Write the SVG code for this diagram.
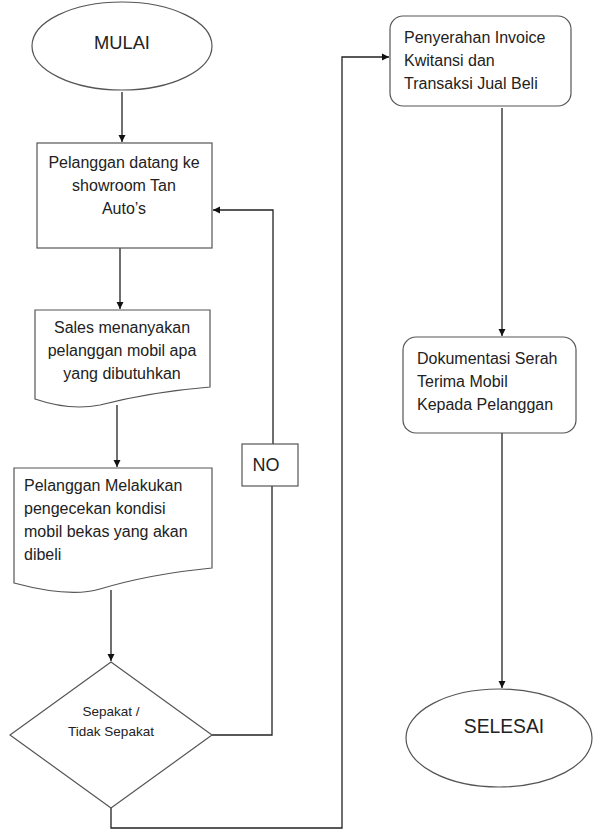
<svg xmlns="http://www.w3.org/2000/svg" width="593" height="829" viewBox="0 0 593 829">
<style>
.shape{fill:#fff;stroke:#555;stroke-width:1.2}
.t{font-family:"Liberation Sans",Arial,sans-serif;font-size:16px;fill:#222}
.c{text-anchor:middle}
.con{fill:none;stroke:#222;stroke-width:1.3}
</style>
<defs>
<marker id="ah" markerWidth="8" markerHeight="8" refX="7" refY="4" orient="auto" markerUnits="userSpaceOnUse">
<path d="M0,0.5 L7,4 L0,7.5 Z" fill="#111"/>
</marker>
</defs>
<rect width="593" height="829" fill="#fff"/>
<g id="connectors">
<path class="con" d="M122,92 V142" marker-end="url(#ah)"/>
<path class="con" d="M120,248 V309" marker-end="url(#ah)"/>
<path class="con" d="M117,405 V467" marker-end="url(#ah)"/>
<path class="con" d="M111,590 V661" marker-end="url(#ah)"/>
<path class="con" d="M212,735 H272 V486"/>
<path class="con" d="M273,444 V210 H213" marker-end="url(#ah)"/>
<path class="con" d="M111,808 V828 H342 V57 H389" marker-end="url(#ah)"/>
<path class="con" d="M502,108 V336" marker-end="url(#ah)"/>
<path class="con" d="M502,433 V688" marker-end="url(#ah)"/>
</g>
<g id="mulai">
<ellipse class="shape" cx="122" cy="46" rx="90" ry="44"/>
<text class="t c" x="122" y="49" style="font-size:18.3px">MULAI</text>
</g>
<g id="datang">
<rect class="shape" x="37" y="143" width="175" height="105"/>
<text class="t c" x="124" y="168">Pelanggan datang ke</text>
<text class="t c" x="124" y="191">showroom Tan</text>
<text class="t c" x="124" y="214">Auto’s</text>
</g>
<g id="sales">
<path class="shape" d="M35,310 H210 V387 Q150,392 100,405 Q70,411 35,399 Z"/>
<text class="t c" x="122" y="333">Sales menanyakan</text>
<text class="t c" x="122" y="356">pelanggan mobil apa</text>
<text class="t c" x="122" y="379">yang dibutuhkan</text>
</g>
<g id="pengecekan">
<path class="shape" d="M14,468 H212 V568 Q150,574 100,589 Q70,598 14,583 Z"/>
<text class="t" x="24" y="491">Pelanggan Melakukan</text>
<text class="t" x="24" y="514">pengecekan kondisi</text>
<text class="t" x="24" y="537">mobil bekas yang akan</text>
<text class="t" x="24" y="560">dibeli</text>
</g>
<g id="no">
<rect class="shape" x="242" y="444" width="56" height="42"/>
<text class="t c" x="266" y="471" style="font-size:18px">NO</text>
</g>
<g id="keputusan">
<path class="shape" d="M111,662 L212,735 L111,808 L10,735 Z"/>
<text class="t c" x="111" y="716" style="font-size:13.5px">Sepakat /</text>
<text class="t c" x="111" y="736" style="font-size:13.5px">Tidak Sepakat</text>
</g>
<g id="invoice">
<rect class="shape" x="390" y="16" width="181" height="90" rx="13"/>
<text class="t" x="404" y="43">Penyerahan Invoice</text>
<text class="t" x="404" y="66">Kwitansi dan</text>
<text class="t" x="404" y="89">Transaksi Jual Beli</text>
</g>
<g id="dokumentasi">
<rect class="shape" x="403" y="337" width="173" height="96" rx="13"/>
<text class="t" x="417" y="364">Dokumentasi Serah</text>
<text class="t" x="417" y="387">Terima Mobil</text>
<text class="t" x="417" y="410">Kepada Pelanggan</text>
</g>
<g id="selesai">
<ellipse class="shape" cx="499" cy="738" rx="93" ry="49"/>
<text class="t c" x="504" y="733" style="font-size:19.3px">SELESAI</text>
</g>
</svg>
